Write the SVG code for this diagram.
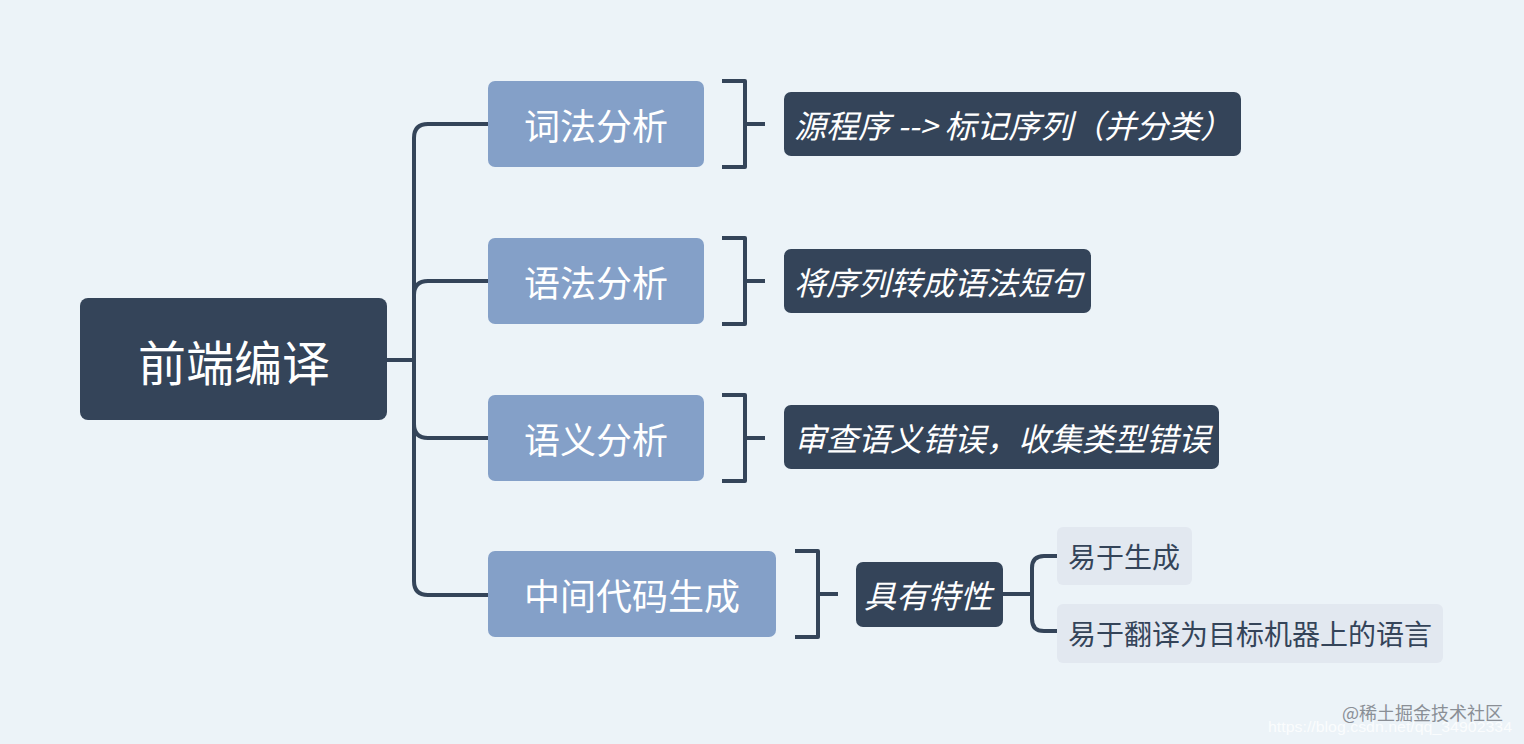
<svg xmlns="http://www.w3.org/2000/svg" width="1524" height="744" viewBox="0 0 1524 744">
<style>
.dark{fill:#344459}
.mid{fill:#84a0c8}
.leaf{fill:#e2e8f0}
.ln{fill:none;stroke:#344459;stroke-width:4;stroke-linecap:butt;stroke-linejoin:round}
text{font-family:"Noto Sans CJK SC","Noto Sans",sans-serif;dominant-baseline:central;text-anchor:middle}
.tw{fill:#ffffff}
.it{font-style:italic;font-size:32px;text-anchor:start}
.lt{fill:#344459;font-size:28px;text-anchor:start}
</style>
<rect width="1524" height="744" fill="#ecf3f8"/>
<g id="connectors">
<path class="ln" d="M387 360 H414"/>
<path class="ln" d="M488 124 H428 Q414 124 414 138 V581 Q414 595 428 595 H488"/>
<path class="ln" d="M488 281 H428 Q414 281 414 295"/>
<path class="ln" d="M488 438 H428 Q414 438 414 424"/>
<path class="ln" d="M722 81 H745 V167 H722 M745 124 H765"/>
<path class="ln" d="M722 238 H745 V324 H722 M745 281 H765"/>
<path class="ln" d="M722 395 H745 V481 H722 M745 438 H765"/>
<path class="ln" d="M795 551 H818 V637 H795 M818 594 H838"/>
<path class="ln" d="M1003 594 H1032"/>
<path class="ln" d="M1057 556 H1044 Q1032 556 1032 568 V619 Q1032 631 1044 631 H1057"/>
</g>
<g id="root">
<rect class="dark" x="80" y="298" width="307" height="122" rx="8"/>
<text class="tw" x="234" y="360" font-size="48">前端编译</text>
</g>
<g id="n1">
<rect class="mid" x="488" y="81" width="216" height="86" rx="7"/>
<text class="tw" x="596" y="124" font-size="36">词法分析</text>
</g>
<g id="n2">
<rect class="mid" x="488" y="238" width="216" height="86" rx="7"/>
<text class="tw" x="596" y="281" font-size="36">语法分析</text>
</g>
<g id="n3">
<rect class="mid" x="488" y="395" width="216" height="86" rx="7"/>
<text class="tw" x="596" y="438" font-size="36">语义分析</text>
</g>
<g id="n4">
<rect class="mid" x="488" y="551" width="288" height="86" rx="7"/>
<text class="tw" x="632" y="594" font-size="36">中间代码生成</text>
</g>
<g id="d1">
<rect class="dark" x="784" y="92" width="457" height="64" rx="7"/>
<text class="tw it" x="794" y="124">源程序 --&gt; 标记序列（并分类）</text>
</g>
<g id="d2">
<rect class="dark" x="784" y="249" width="307" height="64" rx="7"/>
<text class="tw it" x="794" y="281">将序列转成语法短句</text>
</g>
<g id="d3">
<rect class="dark" x="784" y="405" width="435" height="64" rx="7"/>
<text class="tw it" x="794" y="437">审查语义错误，收集类型错误</text>
</g>
<g id="d4">
<rect class="dark" x="856" y="562" width="147" height="65" rx="7"/>
<text class="tw it" x="864" y="594">具有特性</text>
</g>
<g id="l1">
<rect class="leaf" x="1057" y="527" width="135" height="58" rx="6"/>
<text class="lt" x="1068" y="556">易于生成</text>
</g>
<g id="l2">
<rect class="leaf" x="1057" y="604" width="386" height="59" rx="6"/>
<text class="lt" x="1068" y="633">易于翻译为目标机器上的语言</text>
</g>
<g id="watermark">
<text x="1268" y="726" font-size="15" textLength="244" lengthAdjust="spacingAndGlyphs" fill="#ffffff" fill-opacity="0.8" style="text-anchor:start;font-family:'Liberation Sans',sans-serif">https://blog.csdn.net/qq_34902334</text>
<text x="1342" y="712" font-size="18" fill="#8a8f96" style="text-anchor:start">@稀土掘金技术社区</text>
</g>
</svg>
